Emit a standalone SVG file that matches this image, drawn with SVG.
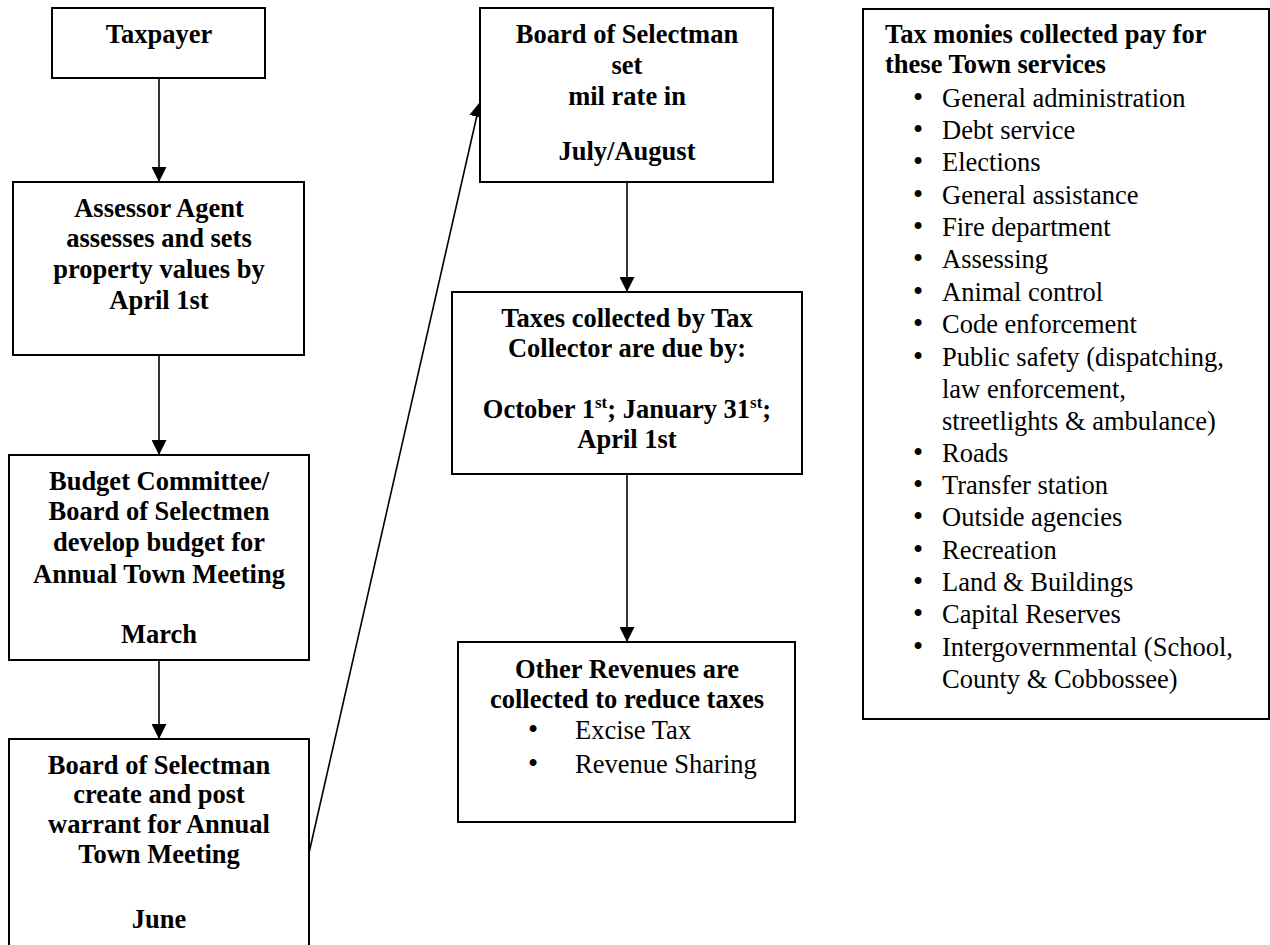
<svg xmlns="http://www.w3.org/2000/svg" width="1270" height="945" viewBox="0 0 1270 945">
<style>
.box{fill:#fff;stroke:#000;stroke-width:2}
.b{font-family:"Liberation Serif","Times New Roman",serif;font-weight:bold;font-size:26.5px;fill:#000}
.c{text-anchor:middle}
.r{font-family:"Liberation Serif","Times New Roman",serif;font-size:26.5px;fill:#000}
.bl{font-size:29px}
.con{stroke:#000;stroke-width:1.6;fill:none;marker-end:url(#ah)}
</style>
<defs>
<marker id="ah" markerUnits="userSpaceOnUse" markerWidth="15" markerHeight="15" refX="15" refY="7.5" orient="auto" viewBox="0 0 15 15">
<path d="M0,0 L15,7.5 L0,15 z" fill="#000"/>
</marker>
</defs>
<rect width="1270" height="945" fill="#fff"/>
<g id="connectors">
<line class="con" x1="159" y1="78" x2="159" y2="182"/>
<line class="con" x1="159" y1="355" x2="159" y2="455"/>
<line class="con" x1="159" y1="660" x2="159" y2="739"/>
<line class="con" x1="309" y1="853" x2="480" y2="102"/>
<line class="con" x1="627" y1="182" x2="627" y2="292"/>
<line class="con" x1="627" y1="474" x2="627" y2="642"/>
</g>
<g id="taxpayer">
<rect class="box" x="52" y="8" width="213" height="70"/>
<text class="b c" x="159" y="43">Taxpayer</text>
</g>
<g id="assessor">
<rect class="box" x="13" y="182" width="291" height="173"/>
<text class="b c" x="159" y="217">Assessor Agent</text>
<text class="b c" x="159" y="247">assesses and sets</text>
<text class="b c" x="159" y="278">property values by</text>
<text class="b c" x="159" y="309">April 1st</text>
</g>
<g id="budget">
<rect class="box" x="9" y="455" width="300" height="205"/>
<text class="b c" x="159" y="490">Budget Committee/</text>
<text class="b c" x="159" y="520">Board of Selectmen</text>
<text class="b c" x="159" y="551">develop budget for</text>
<text class="b c" x="159" y="583">Annual Town Meeting</text>
<text class="b c" x="159" y="643">March</text>
</g>
<g id="warrant">
<rect class="box" x="9" y="739" width="300" height="215"/>
<text class="b c" x="159" y="774">Board of Selectman</text>
<text class="b c" x="159" y="803">create and post</text>
<text class="b c" x="159" y="833">warrant for Annual</text>
<text class="b c" x="159" y="863">Town Meeting</text>
<text class="b c" x="159" y="928">June</text>
</g>
<g id="milrate">
<rect class="box" x="480" y="8" width="293" height="174"/>
<text class="b c" x="627" y="43">Board of Selectman</text>
<text class="b c" x="627" y="74">set</text>
<text class="b c" x="627" y="105">mil rate in</text>
<text class="b c" x="627" y="160">July/August</text>
</g>
<g id="taxes">
<rect class="box" x="452" y="292" width="350" height="182"/>
<text class="b c" x="627" y="327">Taxes collected by Tax</text>
<text class="b c" x="627" y="357">Collector are due by:</text>
<text class="b c" x="627" y="418">October 1<tspan font-size="17" dy="-10">st</tspan><tspan dy="10">; January 31</tspan><tspan font-size="17" dy="-10">st</tspan><tspan dy="10">;</tspan></text>
<text class="b c" x="627" y="448">April 1st</text>
</g>
<g id="other">
<rect class="box" x="458" y="642" width="337" height="180"/>
<text class="b c" x="627" y="678">Other Revenues are</text>
<text class="b c" x="627" y="708">collected to reduce taxes</text>
<g class="r">
<text x="528" y="739"><tspan class="bl">•</tspan><tspan x="575">Excise Tax</tspan></text>
<text x="528" y="773"><tspan class="bl">•</tspan><tspan x="575">Revenue Sharing</tspan></text>
</g>
</g>
<g id="services">
<rect class="box" x="863" y="9" width="406" height="710"/>
<text class="b" x="885" y="43">Tax monies collected pay for</text>
<text class="b" x="885" y="73">these Town services</text>
<g class="r">
<text x="913" y="107"><tspan class="bl">•</tspan><tspan x="942">General administration</tspan></text>
<text x="913" y="139"><tspan class="bl">•</tspan><tspan x="942">Debt service</tspan></text>
<text x="913" y="171"><tspan class="bl">•</tspan><tspan x="942">Elections</tspan></text>
<text x="913" y="204"><tspan class="bl">•</tspan><tspan x="942">General assistance</tspan></text>
<text x="913" y="236"><tspan class="bl">•</tspan><tspan x="942">Fire department</tspan></text>
<text x="913" y="268"><tspan class="bl">•</tspan><tspan x="942">Assessing</tspan></text>
<text x="913" y="301"><tspan class="bl">•</tspan><tspan x="942">Animal control</tspan></text>
<text x="913" y="333"><tspan class="bl">•</tspan><tspan x="942">Code enforcement</tspan></text>
<text x="913" y="366"><tspan class="bl">•</tspan><tspan x="942">Public safety (dispatching,</tspan></text>
<text x="942" y="398">law enforcement,</text>
<text x="942" y="430">streetlights &amp; ambulance)</text>
<text x="913" y="462"><tspan class="bl">•</tspan><tspan x="942">Roads</tspan></text>
<text x="913" y="494"><tspan class="bl">•</tspan><tspan x="942">Transfer station</tspan></text>
<text x="913" y="526"><tspan class="bl">•</tspan><tspan x="942">Outside agencies</tspan></text>
<text x="913" y="559"><tspan class="bl">•</tspan><tspan x="942">Recreation</tspan></text>
<text x="913" y="591"><tspan class="bl">•</tspan><tspan x="942">Land &amp; Buildings</tspan></text>
<text x="913" y="623"><tspan class="bl">•</tspan><tspan x="942">Capital Reserves</tspan></text>
<text x="913" y="656"><tspan class="bl">•</tspan><tspan x="942">Intergovernmental (School,</tspan></text>
<text x="942" y="688">County &amp; Cobbossee)</text>
</g>
</g>
</svg>
